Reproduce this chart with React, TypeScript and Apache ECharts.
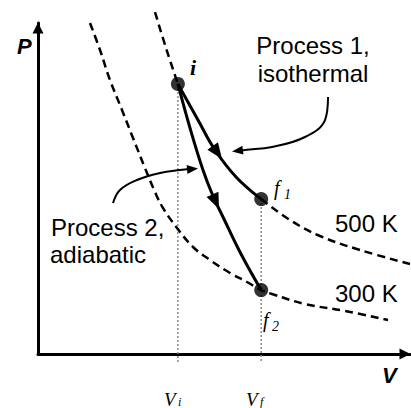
import React, { useEffect, useRef } from 'react';
import * as echarts from 'echarts';

// ---- data (V, P in arbitrary units) ----
const stateNames = ['i', 'f1', 'f2'];
const stateV = [3.76, 6.0, 6.0];
const stateP = [8.16, 4.68, 1.93];

const iso500UpperV = [3.145, 3.441, 3.76];
const iso500UpperP = [10.33, 9.245, 8.16];
const iso500LowerV = [6.0, 6.774, 7.581, 8.656, 10.0];
const iso500LowerP = [4.68, 4.048, 3.565, 3.142, 2.719];

const iso300V = [1.398, 1.667, 1.935, 2.258, 2.554, 2.876, 3.145, 3.36, 3.737, 4.167, 4.624, 5.161, 5.618, 6.0, 6.29, 7.177, 8.253, 9.409];
const iso300P = [10.0, 9.184, 8.278, 7.372, 6.526, 5.619, 4.894, 4.411, 3.807, 3.233, 2.84, 2.447, 2.175, 1.93, 1.813, 1.511, 1.299, 1.027];

const process1V = [3.76, 4.301, 4.758, 5.349, 6.0];
const process1P = [8.16, 7.069, 6.163, 5.317, 4.68];
const process2V = [3.76, 4.086, 4.435, 4.704, 4.973, 5.457, 6.0];
const process2P = [8.16, 6.828, 5.559, 4.773, 4.139, 3.021, 1.93];

const callout1V = [7.796, 7.715, 7.177, 6.29, 5.565, 5.376];
const callout1P = [7.764, 7.069, 6.556, 6.254, 6.163, 6.133];
const callout2V = [2.016, 2.204, 2.661, 3.28, 3.817, 4.086];
const callout2P = [4.562, 4.955, 5.257, 5.468, 5.559, 5.589];

// [tipV, tipP, backV, backP]
const processArrows = [
  [4.946, 5.891, 4.677, 6.314],
  [4.866, 4.381, 4.651, 4.924],
];
const calloutArrows = [
  [5.215, 6.118, 5.538, 6.163],
  [4.301, 5.604, 4.005, 5.574],
];

const dropBottomP = -0.27;
const axisMin = 0;
const axisMax = 10;

const zip = (a: number[], b: number[]) => a.map((v, k) => [v, b[k]]);

const SANS = '"Liberation Sans", Arial, Helvetica, sans-serif';
const SERIF = '"Liberation Serif", "Times New Roman", serif';

function arrowRenderer(len: number, width: number) {
  return (params: any, api: any) => {
    const tip = api.coord([api.value(0), api.value(1)]);
    const back = api.coord([api.value(2), api.value(3)]);
    let dx = tip[0] - back[0];
    let dy = tip[1] - back[1];
    const d = Math.sqrt(dx * dx + dy * dy) || 1;
    dx /= d;
    dy /= d;
    const nx = -dy;
    const ny = dx;
    const bx = tip[0] - dx * len;
    const by = tip[1] - dy * len;
    const h = width / 2;
    return {
      type: 'polygon',
      shape: { points: [tip, [bx + nx * h, by + ny * h], [bx - nx * h, by - ny * h]] },
      style: { fill: '#000' },
    };
  };
}

export default function App() {
  const ref = useRef<HTMLDivElement>(null);

  useEffect(() => {
    if (!ref.current) return;
    const chart = echarts.init(ref.current, undefined, { renderer: 'svg' });

    const dashed = { color: '#000', width: 2.5, type: [8, 5] as any };
    const solid = { color: '#000', width: 3 };
    const thin = { color: '#000', width: 2 };
    const dotted = { color: '#888', width: 1.5, type: [2, 2] as any };

    const lineSeries = (name: string, data: number[][], lineStyle: any, z = 2, smooth: any = 0.4) => ({
      name,
      type: 'line',
      data,
      smooth,
      symbol: 'none',
      showSymbol: false,
      clip: false,
      silent: true,
      z,
      lineStyle,
    });

    const txt = (text: string, x: number, y: number, font: string, align = 'left') => ({
      type: 'text',
      x,
      y,
      silent: true,
      style: { text, font, fill: '#000', align, verticalAlign: 'middle' },
    });

    chart.setOption({
      animation: false,
      backgroundColor: '#fff',
      grid: { left: 38, right: 1, top: 23, bottom: 54 },
      xAxis: {
        type: 'value',
        min: axisMin,
        max: axisMax,
        axisLine: {
          show: true,
          onZero: false,
          lineStyle: { color: '#000', width: 3 },
          symbol: ['none', 'triangle'],
          symbolSize: [11, 11],
          symbolOffset: [0, -5],
        },
        axisTick: { show: false },
        axisLabel: { show: false },
        splitLine: { show: false },
      },
      yAxis: {
        type: 'value',
        min: axisMin,
        max: axisMax,
        axisLine: {
          show: true,
          onZero: false,
          lineStyle: { color: '#000', width: 3 },
          symbol: ['none', 'triangle'],
          symbolSize: [11, 11],
          symbolOffset: [0, -5],
        },
        axisTick: { show: false },
        axisLabel: { show: false },
        splitLine: { show: false },
      },
      series: [
        lineSeries('Vi', [[stateV[0], stateP[0]], [stateV[0], dropBottomP]], dotted, 1, false),
        lineSeries('Vf', [[stateV[1], stateP[1]], [stateV[1], dropBottomP]], dotted, 1, false),
        lineSeries('500 K upper', zip(iso500UpperV, iso500UpperP), dashed),
        lineSeries('500 K lower', zip(iso500LowerV, iso500LowerP), dashed),
        lineSeries('300 K', zip(iso300V, iso300P), dashed),
        lineSeries('Process 1', zip(process1V, process1P), solid, 3),
        lineSeries('Process 2', zip(process2V, process2P), solid, 3),
        lineSeries('callout 1', zip(callout1V, callout1P), thin, 3),
        lineSeries('callout 2', zip(callout2V, callout2P), thin, 3),
        {
          name: 'process arrows',
          type: 'custom',
          data: processArrows,
          renderItem: arrowRenderer(16, 13),
          encode: { x: 0, y: 1 },
          silent: true,
          z: 4,
        },
        {
          name: 'callout arrows',
          type: 'custom',
          data: calloutArrows,
          renderItem: arrowRenderer(11, 9),
          encode: { x: 0, y: 1 },
          silent: true,
          z: 4,
        },
        {
          name: 'states',
          type: 'scatter',
          data: stateNames.map((n, k) => ({ name: n, value: [stateV[k], stateP[k]] })),
          symbolSize: 14,
          itemStyle: { color: '#000' },
          silent: true,
          z: 5,
        },
      ],
      graphic: [
        txt('P', 17, 46, `italic bold 22px ${SANS}`),
        txt('V', 382, 375.5, `italic bold 22px ${SANS}`),
        txt('i', 190, 67.5, `italic bold 22px ${SERIF}`),
        txt('f', 274, 188, `italic 20px ${SERIF}`),
        txt('1', 284, 194, `italic 14px ${SERIF}`),
        txt('f', 263, 320, `italic 20px ${SERIF}`),
        txt('2', 272, 326, `italic 14px ${SERIF}`),
        txt('V', 164, 399, `italic 19px ${SERIF}`),
        txt('i', 178, 402, `italic 12px ${SERIF}`),
        txt('V', 246, 399, `italic 19px ${SERIF}`),
        txt('f', 260, 402, `italic 12px ${SERIF}`),
        txt('Process 1,', 313, 45.6, `24px ${SANS}`, 'center'),
        txt('isothermal', 313, 73.6, `24px ${SANS}`, 'center'),
        txt('Process 2,', 51, 227.6, `24px ${SANS}`),
        txt('adiabatic', 50, 254.6, `24px ${SANS}`),
        txt('500 K', 335, 223.6, `24px ${SANS}`),
        txt('300 K', 335, 293.6, `24px ${SANS}`),
      ],
    });

    return () => chart.dispose();
  }, []);

  return <div ref={ref} style={{ position: 'fixed', left: 0, top: 0, width: 411, height: 408 }} />;
}
